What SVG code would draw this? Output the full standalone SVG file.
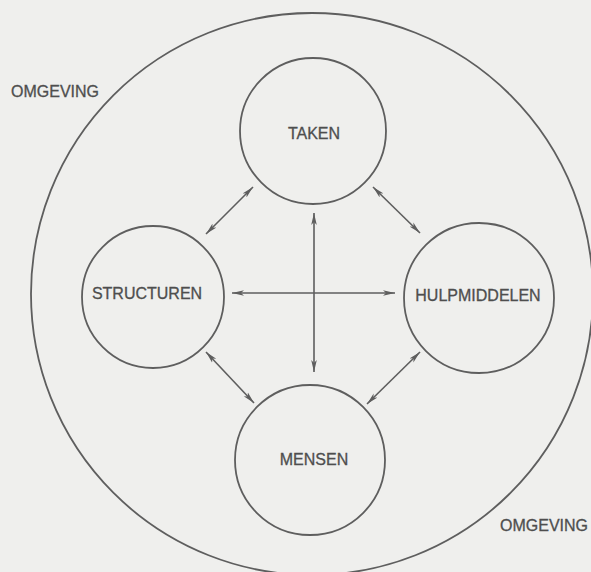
<svg xmlns="http://www.w3.org/2000/svg" width="591" height="572" viewBox="0 0 591 572">
  <style>
    .c { fill: none; stroke: #5e5e5e; stroke-width: 1.8; }
    .t { font-family: "Liberation Sans", Arial, sans-serif; font-size: 16px; fill: #4e4e4e; stroke: #4e4e4e; stroke-width: 0.3; text-anchor: middle; }
    .a { stroke: #5e5e5e; stroke-width: 1.6; fill: none; marker-start: url(#ah); marker-end: url(#ah); }
  </style>
  <defs>
    <marker id="ah" markerUnits="userSpaceOnUse" markerWidth="14" markerHeight="8" refX="12" refY="4" orient="auto-start-reverse">
      <path d="M0,1.2 L12,4 L0,6.8 L3,4 z" fill="#5e5e5e"/>
    </marker>
  </defs>
  <rect width="591" height="572" fill="#efefed"/>
  <g id="omgeving">
    <circle class="c" cx="312" cy="294" r="281"/>
    <text class="t" x="55" y="97">OMGEVING</text>
    <text class="t" x="544" y="531">OMGEVING</text>
  </g>
  <g id="taken">
    <circle class="c" cx="313" cy="131" r="73"/>
    <text class="t" x="314" y="139">TAKEN</text>
  </g>
  <g id="structuren">
    <circle class="c" cx="153" cy="297" r="71"/>
    <text class="t" x="147" y="299">STRUCTUREN</text>
  </g>
  <g id="hulpmiddelen">
    <circle class="c" cx="479" cy="298" r="75"/>
    <text class="t" x="478" y="301">HULPMIDDELEN</text>
  </g>
  <g id="mensen">
    <circle class="c" cx="310" cy="460" r="75"/>
    <text class="t" x="314" y="465">MENSEN</text>
  </g>
  <g id="connectors">
    <line class="a" x1="253" y1="187" x2="206" y2="234"/>
    <line class="a" x1="373" y1="187" x2="420" y2="233"/>
    <line class="a" x1="206" y1="352" x2="254" y2="403"/>
    <line class="a" x1="420" y1="352" x2="367" y2="404"/>
    <line class="a" x1="314" y1="213" x2="314" y2="372"/>
    <line class="a" x1="232" y1="293" x2="395" y2="293"/>
  </g>
</svg>
